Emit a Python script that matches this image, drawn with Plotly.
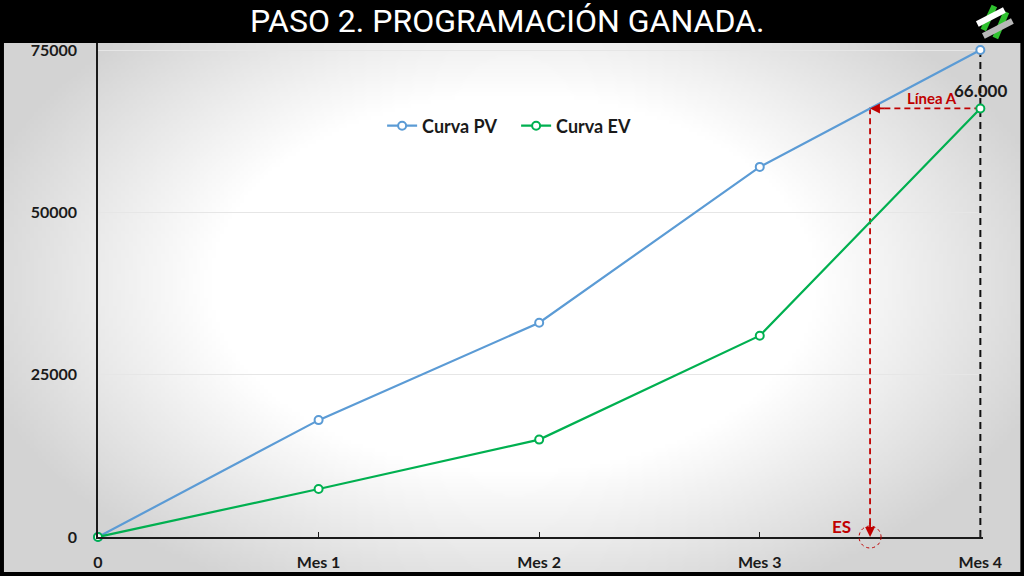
import base64
import struct
import zlib

import numpy as np
import plotly.graph_objects as go

# data
categories = ["0", "Mes 1", "Mes 2", "Mes 3", "Mes 4"]
pv_values = [0, 18000, 33000, 57000, 75000]
ev_values = [0, 7400, 15000, 31000, 66000]
y_ticks = [0, 25000, 50000, 75000]

W, H = 1024, 576
L, T, B = 98, 43, 537   # plot area in pixels
X_LAST = 980            # pixel of the last category

x_idx = list(range(len(categories)))
last = x_idx[-1]
x_top = last + 0.012    # a hair of room so the dashed line at Mes 4 is not clipped
R = L + (X_LAST - L) * x_top / last
ev_now = ev_values[-1]
# ES: where the PV curve reaches the current EV value
es = x_idx[-2] + (ev_now - pv_values[-2]) / (pv_values[-1] - pv_values[-2])

RED = "#c00000"
BLUE = "#5b9bd5"
GREEN = "#00b050"


def px(x):
    return (x - L) / (R - L)


def py(y):
    return (B - y) / (B - T)


def gradient_png(w=256, h=134):
    # radial light-gray background, wide white middle
    yy, xx = np.mgrid[0:h, 0:w]
    dx = (xx / w - 0.5) / 0.5
    dy = (yy / h - 0.45) / 0.6
    d = np.sqrt(dx ** 2 + dy ** 2)
    t = np.clip((d - 0.6) / 0.5, 0, 1)
    img = (255 - 44 * t).astype(np.uint8)
    raw = b"".join(b"\x00" + img[r].tobytes() for r in range(h))

    def chunk(tag, data):
        c = struct.pack(">I", len(data)) + tag + data
        return c + struct.pack(">I", zlib.crc32(tag + data) & 0xFFFFFFFF)

    png = b"\x89PNG\r\n\x1a\n"
    png += chunk(b"IHDR", struct.pack(">IIBBBBB", w, h, 8, 0, 0, 0, 0))
    png += chunk(b"IDAT", zlib.compress(raw, 9))
    png += chunk(b"IEND", b"")
    return "data:image/png;base64," + base64.b64encode(png).decode()


fig = go.Figure()

fig.add_trace(go.Scatter(
    x=[last, last], y=[0, pv_values[-1]], mode="lines",
    line=dict(color="#111111", width=2, dash="7px,5px"),
    showlegend=False, hoverinfo="skip", cliponaxis=False))

fig.add_trace(go.Scatter(
    x=[last, es, es], y=[ev_now, ev_now, 0], mode="lines",
    line=dict(color=RED, width=1.8, dash="6px,4px"),
    showlegend=False, hoverinfo="skip"))

fig.add_trace(go.Scatter(
    x=x_idx, y=pv_values, name="Curva PV", mode="lines+markers",
    line=dict(color=BLUE, width=2.2),
    marker=dict(symbol="circle", size=8, color="white",
                line=dict(color=BLUE, width=2)),
    cliponaxis=False))

fig.add_trace(go.Scatter(
    x=x_idx, y=ev_values, name="Curva EV", mode="lines+markers",
    line=dict(color=GREEN, width=2.2),
    marker=dict(symbol="circle", size=8, color="white",
                line=dict(color=GREEN, width=2)),
    cliponaxis=False))

tick_font = dict(family="Lato, Open Sans, sans-serif", size=16,
                 color="#1a1a1a", weight="bold")

fig.update_xaxes(
    range=[0, x_top], tickvals=x_idx, ticktext=categories,
    showgrid=False, zeroline=False, automargin=False,
    showline=True, linecolor="#1a1a1a", linewidth=1.5,
    ticks="inside", ticklen=5, tickcolor="#1a1a1a", tickwidth=1,
    ticklabelstandoff=10, tickfont=tick_font)

fig.update_yaxes(
    range=[0, 75000 * (B - T) / (B - 50)], tickvals=y_ticks, tickformat="d",
    showgrid=True, gridcolor="#e6e6e6", gridwidth=1, zeroline=False,
    automargin=False,
    showline=True, linecolor="#1a1a1a", linewidth=1.5,
    ticks="", ticklabelstandoff=16, tickfont=tick_font)

annotations = [
    dict(x=px(507), y=py(21), xref="paper", yref="paper",
         xanchor="center", yanchor="middle",
         text="PASO 2. PROGRAMACIÓN GANADA.", showarrow=False,
         font=dict(family="Roboto, sans-serif", size=32, color="white")),
    # arrow heads of line A and of the ES drop
    dict(x=es, y=ev_now, ax=16, ay=0, axref="pixel", ayref="pixel",
         text="", showarrow=True, arrowhead=2, arrowsize=1.1,
         arrowwidth=1.8, arrowcolor=RED),
    dict(x=es, y=0, ax=0, ay=-16, axref="pixel", ayref="pixel",
         text="", showarrow=True, arrowhead=2, arrowsize=1.1,
         arrowwidth=1.8, arrowcolor=RED),
    dict(x=(last + es) / 2 + 0.03, y=ev_now, yshift=10, text="<b>Línea A</b>",
         showarrow=False, font=dict(family="Lato, sans-serif", size=15, color=RED)),
    dict(x=last, y=ev_now, yshift=18, xshift=0, text="<b>66.000</b>",
         showarrow=False, font=dict(family="Lato, sans-serif", size=17,
                                    color="#1a1a1a")),
    dict(x=es, y=0, xshift=-29, yshift=11, text="<b>ES</b>", showarrow=False,
         font=dict(family="Lato, sans-serif", size=17, color=RED)),
]

shapes = [
    # black header band
    dict(type="rect", xref="paper", yref="paper", x0=px(0), x1=px(W),
         y0=py(T), y1=py(0), fillcolor="black", line_width=0, layer="below"),
    # dotted circle at ES (paper refs so it is not clipped)
    dict(type="circle", xref="paper", yref="paper", xsizemode="pixel",
         ysizemode="pixel", xanchor=es / x_top, yanchor=0, x0=-11, x1=11,
         y0=-11, y1=11, line=dict(color=RED, width=1, dash="dot")),
    # logo
    dict(type="line", xref="paper", yref="paper", x0=px(994), y0=py(6),
         x1=px(983), y1=py(30), line=dict(color="#2fc12f", width=6)),
    dict(type="line", xref="paper", yref="paper", x0=px(1006), y0=py(12),
         x1=px(995), y1=py(38), line=dict(color="#2fc12f", width=6)),
    dict(type="line", xref="paper", yref="paper", x0=px(977), y0=py(24),
         x1=px(1004), y1=py(10), line=dict(color="white", width=6)),
    dict(type="line", xref="paper", yref="paper", x0=px(983), y0=py(36),
         x1=px(1012), y1=py(21), line=dict(color="#b8b8b8", width=6)),
]

fig.update_layout(
    width=W, height=H,
    margin=dict(l=L, r=W - R, t=T, b=H - B, autoexpand=False),
    paper_bgcolor="black", plot_bgcolor="rgba(0,0,0,0)",
    images=[dict(source=gradient_png(), xref="paper", yref="paper",
                 x=px(4), y=py(T), sizex=(1020 - 4) / (R - L),
                 sizey=(572 - T) / (B - T), sizing="stretch",
                 xanchor="left", yanchor="top", layer="below")],
    legend=dict(orientation="h", x=px(382), y=py(126), xanchor="left",
                yanchor="middle", bgcolor="rgba(0,0,0,0)",
                font=dict(family="Lato, sans-serif", size=18,
                          color="#1a1a1a", weight="bold"),
                itemwidth=30, entrywidth=89, traceorder="normal"),
    annotations=annotations, shapes=shapes,
    showlegend=True,
)

fig.write_html("out.html", config={"displayModeBar": False},
               post_script="document.body.style.margin='0';")
